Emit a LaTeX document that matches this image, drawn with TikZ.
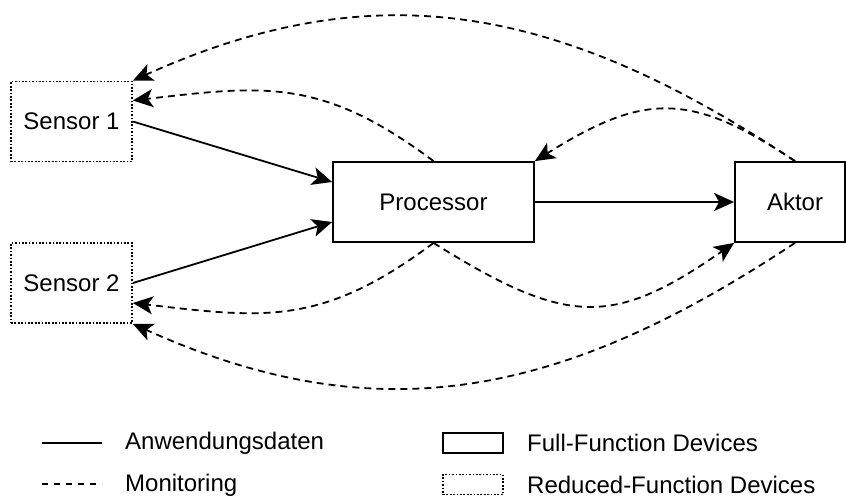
\documentclass[tikz,border=0pt]{standalone}
\usepackage{fontspec}
\setmainfont{Liberation Sans}
\usetikzlibrary{arrows.meta}
\begin{document}
\begin{tikzpicture}[x=1pt,y=-1pt,
  font=\fontsize{24}{28}\selectfont,
  ffd/.style={draw, line width=1.8pt, rectangle, inner sep=0pt, minimum height=80pt},
  rfd/.style={draw, line width=1.7pt, dash pattern=on 1.7pt off 1.7pt, rectangle, inner sep=0pt, minimum width=121pt, minimum height=80pt},
  headtip/.style={-{Stealth[length=20pt 0, width=18pt 0, inset=5pt 0]}},
  data/.style={line width=1.8pt, headtip},
  mon/.style={line width=1.8pt, dash pattern=on 7pt off 5pt, headtip},
  legtext/.style={anchor=west, inner sep=0pt}
]
\useasboundingbox (0,0) rectangle (846,497);

% devices
\node[rfd] (s1) at (71.5,121.5) {Sensor 1};
\node[rfd] (s2) at (71.5,283) {Sensor 2};
\node[ffd, minimum width=201pt] (proc) at (433.5,202) {Processor};
\node[ffd, minimum width=110pt] (akt) at (790,202) {\hspace*{10pt}Aktor};

% application data
\draw[data] (s1.east) -- ([yshift=20pt]proc.west);
\draw[data] (s2.east) -- ([yshift=-20pt]proc.west);
\draw[data] (proc.east) -- (akt.west);

% monitoring
\draw[mon] (proc.north) .. controls +(-112,-84) and +(130,-15) .. ([yshift=21pt]s1.east);
\draw[mon] ([xshift=5pt]akt.north) .. controls +(-232,-154) and +(246,-111) .. (s1.north east);
\draw[mon] ([xshift=5pt]akt.north) .. controls +(-104,-69) and +(110,-69) .. (proc.north east);
\draw[mon] (proc.south) .. controls +(-112,84) and +(130,15) .. ([yshift=-20pt]s2.east);
\draw[mon] ([xshift=5pt]akt.south) .. controls +(-232,154) and +(246,111) .. (s2.south east);
\draw[mon] (proc.south) .. controls +(134,84) and +(-121,84) .. (akt.south west);

% legend
\coordinate (l1a) at (42,443);
\coordinate (l1b) at (102,443);
\coordinate (l2a) at (42,484);
\coordinate (l2b) at (102,484);
\draw[line width=1.8pt] (l1a) -- (l1b);
\draw[line width=1.8pt, dash pattern=on 6pt off 6pt] (l2a) -- (l2b);
\node[legtext] (t1) at (125,443) {Anwendungsdaten};
\node[legtext] (t2) at (125,485) {Monitoring};
\node[draw, line width=1.8pt, inner sep=0pt, minimum width=60pt, minimum height=20pt] (k1) at (473,443) {};
\node[draw, line width=1.7pt, dash pattern=on 1.7pt off 1.7pt, inner sep=0pt, minimum width=60pt, minimum height=20pt] (k2) at (473,484.5) {};
\node[legtext] (t3) at (527,443) {Full-Function Devices};
\node[legtext] (t4) at (527,485) {Reduced-Function Devices};
\end{tikzpicture}
\end{document}
